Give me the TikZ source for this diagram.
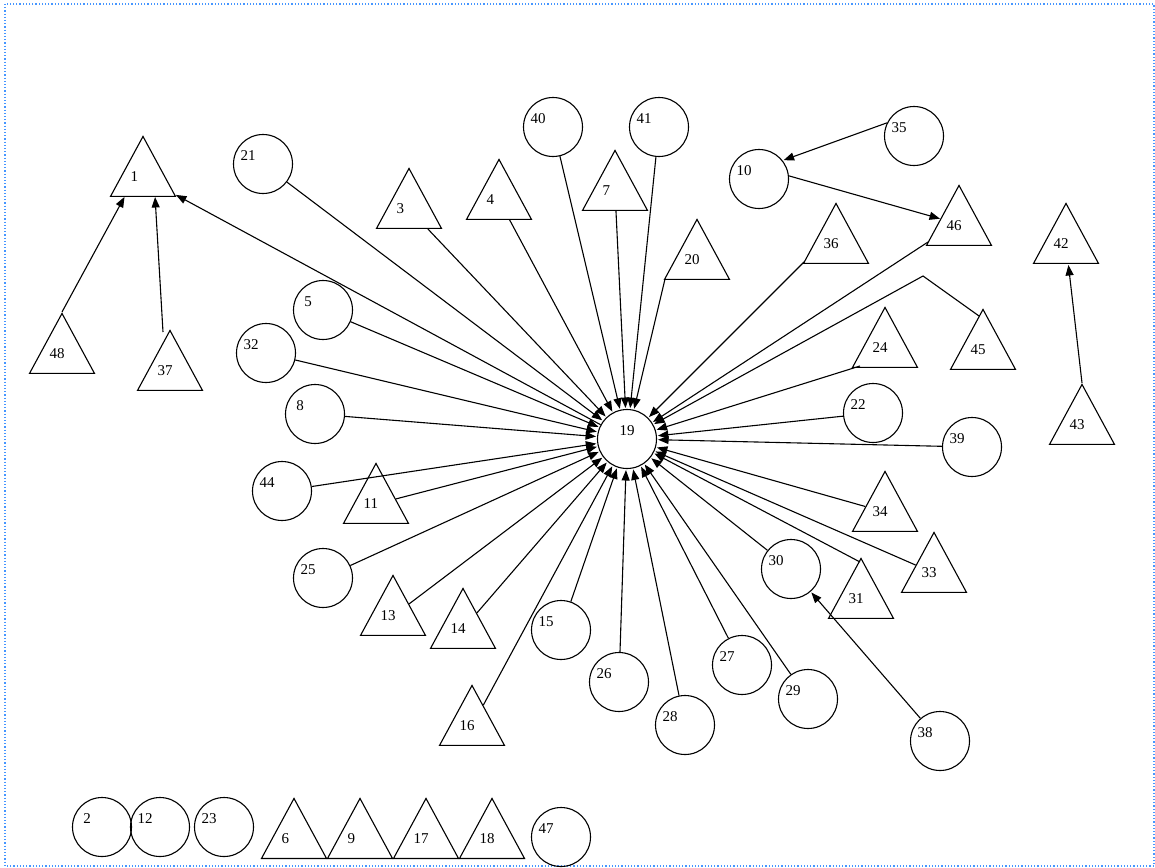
\documentclass[tikz,border=0pt]{standalone}
\usepackage{fontspec}
\setmainfont{Liberation Serif}
\usetikzlibrary{arrows.meta,shapes.geometric,calc}
\definecolor{framecol}{RGB}{70,150,255}
\begin{document}
\begin{tikzpicture}[x=1pt,y=-1pt,
  every node/.style={font=\fontsize{15}{18}\selectfont},
  circ/.style={circle,draw,line width=1.1pt,minimum size=59pt,inner sep=0pt,
     label={[anchor=west,inner sep=0pt,xshift=-15pt,yshift=8pt]center:#1}},
  tri/.style={isosceles triangle,isosceles triangle stretches,shape border rotate=90,
     draw,line width=1.1pt,minimum width=65pt,minimum height=60pt,inner sep=0pt,anchor=apex,
     append after command={node[anchor=west,inner sep=0pt,xshift=-12.5pt,yshift=-42pt] at (\tikzlastnode.apex) {#1}}},
  arr/.style={-{Triangle[length=10.5pt,width=8pt]},line width=1.1pt,shorten >=1pt}]
\useasboundingbox (0,0) rectangle (1155,867);
\draw[framecol,dotted,line width=1.2pt] (5,4) rectangle (1154,866);
% circles
\node[circle,draw,line width=1.1pt,minimum size=59pt,inner sep=0pt,
  label={[inner sep=0pt,yshift=8pt]center:19}] (n19) at (627,439) {};
\node[circ=21] (n21) at (263,164) {};
\node[circ=40] (n40) at (553,127) {};
\node[circ=41] (n41) at (659,127) {};
\node[circ=10] (n10) at (759,179) {};
\node[circ=35] (n35) at (914,136) {};
\node[circ=5] (n5) at (323,310) {};
\node[circ=32] (n32) at (266,353) {};
\node[circ=8] (n8) at (315,414) {};
\node[circ=44] (n44) at (282,491) {};
\node[circ=25] (n25) at (323,578) {};
\node[circ=15] (n15) at (561,630) {};
\node[circ=26] (n26) at (619,682) {};
\node[circ=28] (n28) at (685,725) {};
\node[circ=27] (n27) at (742,665) {};
\node[circ=29] (n29) at (808,699) {};
\node[circ=30] (n30) at (791,569) {};
\node[circ=38] (n38) at (940,741) {};
\node[circ=22] (n22) at (873,413) {};
\node[circ=39] (n39) at (972,447) {};
\node[circ=2] (n2) at (102,827) {};
\node[circ=12] (n12) at (160,827) {};
\node[circ=23] (n23) at (224,827) {};
\node[circ=47] (n47) at (561,837) {};
% triangles (placed by apex)
\node[tri=1] (t1) at (143,135) {};
\node[tri=3] (t3) at (409,167) {};
\node[tri=4] (t4) at (499,158) {};
\node[tri=7] (t7) at (615,149) {};
\node[tri=20] (t20) at (697,218) {};
\node[tri=36] (t36) at (836,202) {};
\node[tri=46] (t46) at (959,184) {};
\node[tri=42] (t42) at (1066,202) {};
\node[tri=24] (t24) at (885,306) {};
\node[tri=45] (t45) at (983,308) {};
\node[tri=43] (t43) at (1082,383) {};
\node[tri=48] (t48) at (62,312) {};
\node[tri=37] (t37) at (170,329) {};
\node[tri=11] (t11) at (376,462) {};
\node[tri=13] (t13) at (393,574) {};
\node[tri=14] (t14) at (463,587) {};
\node[tri=16] (t16) at (472,684) {};
\node[tri=34] (t34) at (885,470) {};
\node[tri=33] (t33) at (934,531) {};
\node[tri=31] (t31) at (861,557) {};
\node[tri=6] (t6) at (294,797) {};
\node[tri=9] (t9) at (360,797) {};
\node[tri=17] (t17) at (426,797) {};
\node[tri=18] (t18) at (492,797) {};
\coordinate (b45) at (923,276);
% connectors
\foreach \s in {n21,t3,t4,n40,t7,n41,n22,n39,t34,t33,n30,n29,n27,n28,n26,n15,t16,t14,t13,n25,t11,n44,n8,n32,n5}
  \draw[arr] (\s) -- (n19);
\draw[arr] ($(t31.apex)+(-1,5)$) -- (n19);
\draw[arr] ($(t20.apex)+(-32,61)$) -- (n19);
\draw[arr] ($(t36.apex)+(-32,60)$) -- (n19);
\draw[arr] ($(t46.apex)+(-31,58)$) -- (n19);
\draw[arr] ($(t24.apex)+(-25,60)$) -- (n19);
\draw[arr] ($(t45.apex)+(-4,8)$) -- (b45) -- (n19);
\draw[arr] (n19) -- (t1);
\draw[arr] (t48.apex) -- ($(t1.apex)+(-18,61)$);
\draw[arr] ($(t37.apex)+(-7,3)$) -- ($(t1.apex)+(12,61)$);
\draw[arr] (n35.154) -- (n10.38);
\draw[arr] (n10.6) -- ($(t46.apex)+(-18,35)$);
\draw[arr] (t43.apex) -- (t42);
\draw[arr] (n38) -- (n30);
\end{tikzpicture}
\end{document}
